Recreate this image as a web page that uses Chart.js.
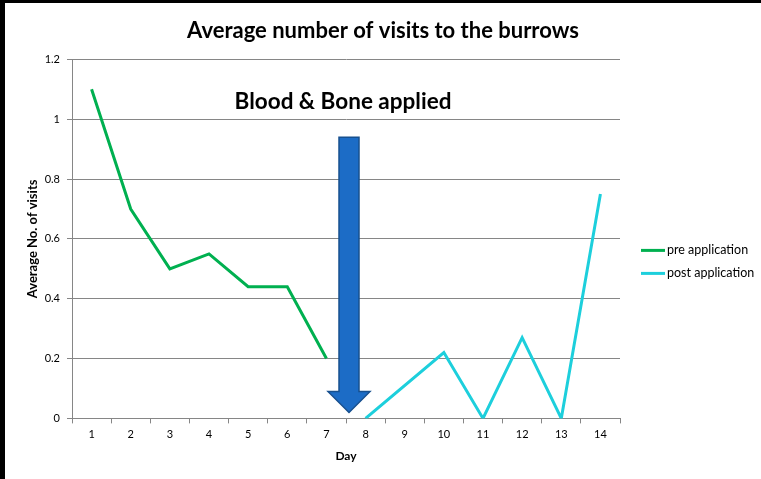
<!DOCTYPE html>
<html>
<head>
<meta charset="utf-8">
<script src="https://cdn.jsdelivr.net/npm/chart.js@4/dist/chart.umd.min.js"></script>
<style>
  body { margin: 0; background: #000; }
  #khung { position: absolute; left: 5px; top: 3px; width: 756px; height: 476px; background: #fff; }
</style>
</head>
<body>
<div id="khung"><canvas id="bieu-do"></canvas></div>
<script>
// du lieu doc tu hinh
const cacNgay = ["1", "2", "3", "4", "5", "6", "7", "8", "9", "10", "11", "12", "13", "14"];
const truocBon = [1.1, 0.7, 0.5, 0.55, 0.44, 0.44, 0.2, null, null, null, null, null, null, null];
const sauBon = [null, null, null, null, null, null, null, 0, null, 0.22, 0, 0.27, 0, 0.75];
const nhanTrucY = ["0", "0.2", "0.4", "0.6", "0.8", "1", "1.2"];

const FONT = "Lato, 'Open Sans', sans-serif";

// chu thich ben phai + mui ten
const veThem = {
    id: "veThem",
    afterDatasetsDraw(chart) {
        const ctx = chart.ctx;
        const x = chart.scales.x;
        const y = chart.scales.y;
        const vung = chart.chartArea;

        // mui ten "Blood & Bone applied"
        const xc = (x.getPixelForValue(6) + x.getPixelForValue(7)) / 2 + 3;
        const yTren = y.getPixelForValue(0.94);
        const yDau = y.getPixelForValue(0.09);
        const yMui = y.getPixelForValue(0.02);
        ctx.save();
        ctx.beginPath();
        ctx.moveTo(xc - 10, yTren);
        ctx.lineTo(xc + 10, yTren);
        ctx.lineTo(xc + 10, yDau);
        ctx.lineTo(xc + 21, yDau);
        ctx.lineTo(xc, yMui);
        ctx.lineTo(xc - 21, yDau);
        ctx.lineTo(xc - 10, yDau);
        ctx.closePath();
        ctx.fillStyle = "#1C6CC6";
        ctx.fill();
        ctx.lineWidth = 1.5;
        ctx.strokeStyle = "#17508F";
        ctx.stroke();

        ctx.fillStyle = "#000";
        ctx.font = "bold 22.5px " + FONT;
        ctx.textAlign = "center";
        ctx.textBaseline = "middle";
        ctx.fillText("Blood & Bone applied", xc - 6, y.getPixelForValue(1.06));

        // chu thich
        const giua = (vung.top + vung.bottom) / 2 + 23;
        chart.data.datasets.forEach((ds, i) => {
            const yy = giua - 11.5 + i * 23;
            ctx.beginPath();
            ctx.moveTo(vung.right + 21, yy);
            ctx.lineTo(vung.right + 45, yy);
            ctx.strokeStyle = ds.borderColor;
            ctx.lineWidth = 3;
            ctx.stroke();
            ctx.fillStyle = "#000";
            ctx.font = "12.5px " + FONT;
            ctx.textAlign = "left";
            ctx.fillText(ds.label, vung.right + 47, yy);
        });
        ctx.restore();
    }
};

new Chart(document.getElementById("bieu-do"), {
    type: "line",
    data: {
        labels: cacNgay,
        datasets: [
            { label: "pre application", data: truocBon, borderColor: "#00B050", borderWidth: 3, pointRadius: 0 },
            { label: "post application", data: sauBon, borderColor: "#1DCFDC", borderWidth: 3, pointRadius: 0, spanGaps: true }
        ]
    },
    options: {
        responsive: true,
        maintainAspectRatio: false,
        animation: false,
        layout: { padding: { left: 0, right: 0, top: 0, bottom: 16 } },
        plugins: {
            legend: { display: false },
            tooltip: { enabled: false },
            title: {
                display: true,
                text: "Average number of visits to the burrows",
                color: "#000",
                font: { family: FONT, size: 22, weight: "bold" },
                padding: { top: 15, bottom: 15 }
            }
        },
        scales: {
            x: {
                offset: true,
                grid: { offset: true, drawOnChartArea: false, drawTicks: true, tickLength: 5, color: "#868686" },
                border: { color: "#868686" },
                ticks: { color: "#000", font: { family: FONT, size: 11 }, padding: 4, maxRotation: 0, autoSkip: false },
                title: { display: true, text: "Day", color: "#000", font: { family: FONT, size: 12, weight: "bold" }, padding: { top: 4, bottom: 0 } }
            },
            y: {
                min: 0,
                max: 1.2,
                afterFit: (s) => { s.width = 67; },
                ticks: {
                    stepSize: 0.2,
                    color: "#000",
                    font: { family: FONT, size: 11 },
                    padding: 7,
                    callback: (v, i) => nhanTrucY[i]
                },
                grid: { color: "#868686", tickLength: 5 },
                border: { color: "#868686" },
                title: { display: true, text: "Average No. of visits", color: "#000", font: { family: FONT, size: 13, weight: "bold" }, padding: { top: 20, bottom: 0 } }
            },
            // truc an ben phai, chua cho chu thich
            phai: {
                type: "linear",
                position: "right",
                display: true,
                afterFit: (s) => { s.width = 141; },
                ticks: { display: false },
                grid: { display: false },
                border: { display: false }
            }
        }
    },
    plugins: [veThem]
});
</script>
</body>
</html>
